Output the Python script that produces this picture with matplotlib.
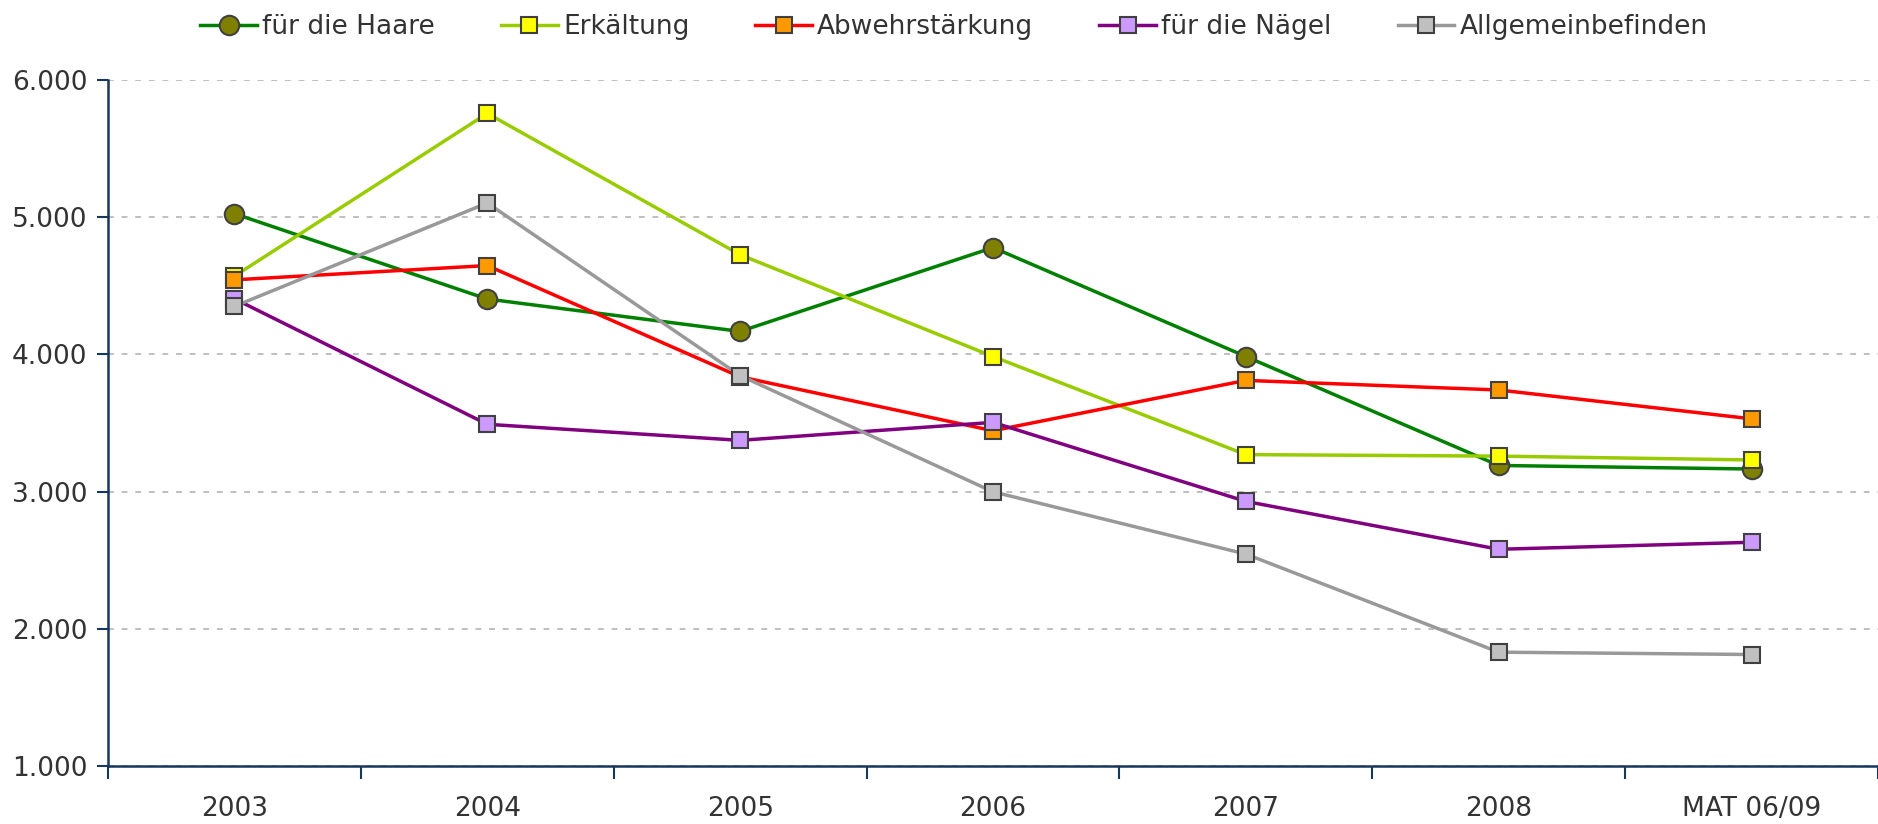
import matplotlib
matplotlib.use("Agg")
import matplotlib.pyplot as plt
from matplotlib.ticker import FixedLocator, FuncFormatter

categories = ["2003", "2004", "2005", "2006", "2007", "2008", "MAT 06/09"]

haare = [5025, 4403, 4167, 4778, 3984, 3190, 3164]
erkaeltung = [4570, 5756, 4726, 3984, 3269, 3258, 3230]
abwehr = [4543, 4647, 3836, 3443, 3810, 3740, 3530]
naegel = [4405, 3490, 3373, 3504, 2928, 2579, 2630]
allgemein = [4350, 5103, 3845, 2998, 2544, 1829, 1812]

series = [
    ("für die Haare", haare, "#008000", "#808000", "o", 14),
    ("Erkältung", erkaeltung, "#99CC00", "#FFFF00", "s", 11.5),
    ("Abwehrstärkung", abwehr, "#FF0000", "#FF9900", "s", 11.5),
    ("für die Nägel", naegel, "#800080", "#CC99FF", "s", 11.5),
    ("Allgemeinbefinden", allgemein, "#999999", "#C0C0C0", "s", 11.5),
]

plt.rcParams['font.family'] = ['DejaVu Sans']
text_color = "#333333"
axis_color = "#17375E"

fig = plt.figure(figsize=(18.78, 8.24), dpi=100)
ax = fig.add_axes([0.0575, 0.0705, 0.9425, 0.8325])

x = list(range(len(categories)))
for name, vals, lc, mc, mk, ms in series:
    ax.plot(x, vals, color=lc, lw=2.5, marker=mk, markersize=ms,
            markerfacecolor=mc, markeredgecolor="#404040", markeredgewidth=1.5,
            label=name)

ax.set_xlim(-0.5, len(categories) - 0.5)
ax.set_ylim(1000, 6000)
ax.set_yticks([1000, 2000, 3000, 4000, 5000, 6000])
ax.yaxis.set_major_formatter(FuncFormatter(lambda v, p: f"{int(v):,}".replace(",", ".")))
ax.set_xticks(x)
ax.set_xticklabels(categories)
ax.xaxis.set_minor_locator(FixedLocator([i - 0.5 for i in range(len(categories) + 1)]))

ax.grid(axis="y", color="#BFBFBF", linestyle=(0, (3, 4)), lw=1.4)
ax.set_axisbelow(True)

for s in ["top", "right"]:
    ax.spines[s].set_visible(False)
for s in ["left", "bottom"]:
    ax.spines[s].set_color(axis_color)
    ax.spines[s].set_linewidth(1.8)

ax.tick_params(axis="y", which="major", length=8, width=1.5, color=axis_color,
               labelsize=19, labelcolor=text_color, pad=7)
ax.tick_params(axis="x", which="major", length=0, labelsize=19,
               labelcolor=text_color, pad=22)
ax.tick_params(axis="x", which="minor", length=9, width=1.5, color=axis_color,
               direction="out")

leg = fig.legend(loc="upper center", bbox_to_anchor=(0.508, 1.012), ncol=5,
                 frameon=False, fontsize=19, handlelength=2.15, columnspacing=2.5,
                 handletextpad=0.2)
for t in leg.get_texts():
    t.set_color(text_color)

fig.savefig("out.png", dpi=100)
plt.close(fig)
